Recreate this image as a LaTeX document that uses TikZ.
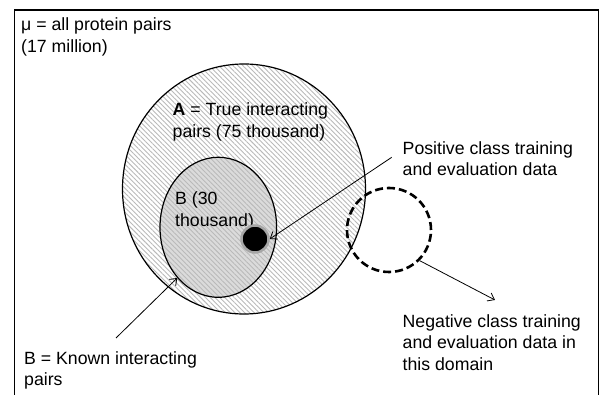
\documentclass[tikz,border=0pt]{standalone}
\usepackage{fontspec}
\setmainfont{Liberation Sans}
\usetikzlibrary{shapes.geometric,patterns.meta,arrows.meta}
\begin{document}
\begin{tikzpicture}[x=1pt,y=-1pt,
  hatch/.style={pattern={Lines[angle=135,distance=3.4pt,line width=0.9pt]},pattern color=gray!55},
  setline/.style={draw=black,line width=1.2pt},
  lbl/.style={inner sep=0pt,anchor=base west,align=left,font=\fontsize{17.7}{21.3}\selectfont},
  pointer/.style={draw=black,line width=0.8pt,-{Straight Barb[length=6pt,width=9pt]}}]
\useasboundingbox (0,0) rectangle (600,395);
\draw[line width=1.3pt] (14.5,395) -- (14.5,10) -- (598.5,10) -- (598.5,395);
% set A
\node[ellipse,setline,hatch,inner sep=0pt,minimum width=243pt,minimum height=250pt] (A) at (244,189) {};
% set B
\node[ellipse,setline,preaction={fill=gray!28},hatch,inner sep=0pt,minimum width=116.6pt,minimum height=140pt] (B) at (218.3,227.3) {};
% labels (anchor = baseline of the last line)
\node[lbl] (mu) at (21,52.3) {μ = all protein pairs\\(17 million)};
\node[lbl] (Alab) at (172.5,137.3) {\textbf{A} = True interacting\\pairs (75 thousand)};
\node[lbl] (Blab) at (175,226.3) {B (30\\thousand)};
\node[lbl] (pos) at (402.5,175.8) {Positive class training\\and evaluation data};
\node[lbl] (neglab) at (402.5,370.3) {Negative class training\\and evaluation data in\\this domain};
\node[lbl] (known) at (24,385.7) {B = Known interacting\\pairs};
% dot
\node[circle,fill=black,draw=gray!70,line width=2.5pt,inner sep=0pt,minimum size=27pt] (dot) at (255,239) {};
% dashed negative circle
\node[circle,draw=black,line width=2.6pt,dash pattern=on 8pt off 4pt,inner sep=0pt,minimum size=84pt] (neg) at (389,230) {};
% connectors
\coordinate (posfrom) at (391.7,157.3);
\coordinate (negto) at (495,300);
\coordinate (knownfrom) at (116,338);
\draw[pointer] (posfrom) -- (dot.east);
\draw[pointer] (neg.south east) -- (negto);
\draw[pointer] (knownfrom) -- (B.231);
\end{tikzpicture}
\end{document}
